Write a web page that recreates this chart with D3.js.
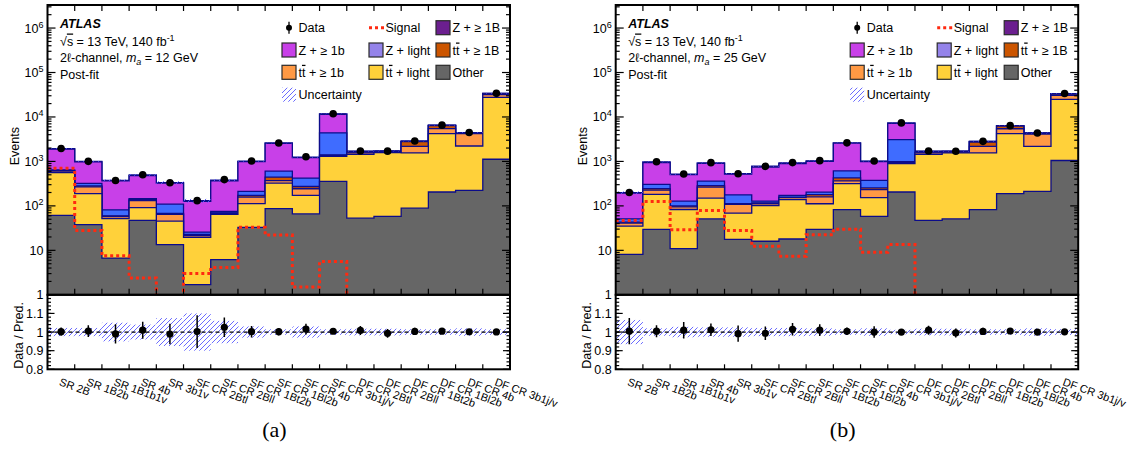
<!DOCTYPE html>
<html lang="en">
<head>
<meta charset="UTF-8">
<title>Post-fit yields, 2l channel</title>
<script src="https://d3js.org/d3.v7.min.js"></script>
<style>
    body { margin: 0; background: #fff; }
    svg text { font-family: "Liberation Sans", Arial, Helvetica, sans-serif; fill: #000; }
    .tick-label { font-size: 12.5px; }
    .bin-label { font-size: 11px; }
    .leg-text { font-size: 12.5px; }
    .info { font-size: 12.5px; }
    .axis-title { font-size: 12.5px; }
    .caption { font-family: "Liberation Serif", "Times New Roman", serif; font-size: 22px; }
    .over { text-decoration: overline; }
</style>
</head>
<body>
<svg id="chart" width="1131" height="450"></svg>
<script>
    const categories = ["SR 2B", "SR 1B2b", "SR 1B1b1v", "SR 4b", "SR 3b1v",
        "SF CR 2Btl", "SF CR 2Bll", "SF CR 1Bt2b", "SF CR 1Bl2b", "SF CR 4b", "SF CR 3b1j/v",
        "DF CR 2Btl", "DF CR 2Bll", "DF CR 1Bt2b", "DF CR 1Bl2b", "DF CR 4b", "DF CR 3b1j/v"];

    // (a) m_a = 12 GeV
    const otherA = [61, 38, 6.7, 47, 13.5, 1.7, 6.2, 33, 87, 66, 355, 53, 58, 89, 205, 223, 1120];
    const ttLightA = [500, 150, 45, 44, 32, 18, 58, 79, 238, 107, 945, 1387, 1522, 1461, 4035, 2000, 26600];
    const tt1bA = [45, 80, 6, 41, 19, 2, 4, 46, 45, 70, 60, 120, 60, 630, 1240, 2000, 4000];
    const tt1BA = [15, 12, 2, 8, 3, 1, 1, 15, 75, 30, 40, 40, 20, 600, 900, 150, 1500];
    const zLightA = [25, 40, 22, 6, 42, 3, 6, 40, 160, 150, 3000, 30, 20, 40, 60, 30, 400];
    const z1bA = [1240, 660, 285, 335, 215, 100, 290, 780, 1950, 800, 7100, 60, 30, 40, 60, 40, 300];
    const z1BA = [60, 20, 8, 15, 10, 5, 15, 25, 40, 30, 250, 10, 5, 10, 20, 10, 50];
    const dataA = [1950, 1005, 371, 501, 331, 131, 390, 1020, 2600, 1273, 11800, 1715, 1703, 2880, 6550, 4460, 34000];
    const signalA = [700, 28, 7.6, 2.4, 0, 3, 4.1, 33, 22, 1.5, 5.6, 0, 0, 0, 0, 0, 0];
    const dataErrA = [0.022, 0.032, 0.052, 0.045, 0.055, 0.088, 0.051, 0.031, 0.02, 0.028, 0.009, 0.024, 0.024, 0.019, 0.012, 0.015, 0.005];
    const uncA = [0.022, 0.022, 0.05, 0.04, 0.075, 0.1, 0.06, 0.03, 0.015, 0.03, 0.015, 0.018, 0.018, 0.015, 0.015, 0.02, 0.015];

    // (b) m_a = 25 GeV
    const otherB = [8.1, 29.6, 10.9, 51, 17.6, 16, 18, 29.6, 82, 58, 205, 47, 51, 82, 188, 213, 1050];
    const ttLightB = [27, 151, 72, 99, 51, 86, 120, 82, 234, 95, 685, 1393, 1499, 1468, 4042, 1977, 23950];
    const tt1bB = [6, 45, 12, 115, 39, 10, 15, 48, 50, 80, 60, 120, 70, 620, 1200, 1950, 5500];
    const tt1BB = [2, 20, 5, 20, 5, 5, 5, 20, 60, 20, 40, 40, 25, 560, 800, 150, 2100];
    const zLightB = [8, 60, 28, 77, 65, 11, 15, 25, 184, 122, 2110, 30, 20, 40, 50, 30, 500];
    const z1bB = [142, 640, 375, 540, 340, 620, 720, 800, 1960, 620, 4100, 60, 30, 40, 50, 30, 400];
    const z1BB = [6, 30, 12, 25, 15, 32, 35, 25, 40, 25, 150, 10, 5, 10, 15, 10, 60];
    const dataB = [200, 980, 520, 938, 528, 775, 942, 1040, 2620, 1020, 7350, 1717, 1692, 2830, 6380, 4360, 33600];
    const signalB = [47, 126, 29, 79, 28, 12.3, 7.4, 22.5, 30, 9.1, 13.5, 0, 0, 0, 0, 0, 0];
    const dataErrB = [0.07, 0.032, 0.044, 0.033, 0.044, 0.036, 0.033, 0.031, 0.02, 0.031, 0.012, 0.024, 0.024, 0.019, 0.013, 0.015, 0.005];
    const uncB = [0.065, 0.02, 0.028, 0.025, 0.025, 0.022, 0.022, 0.02, 0.015, 0.02, 0.012, 0.018, 0.018, 0.015, 0.015, 0.02, 0.015];

    const mainTicks = [1, 10, 100, 1e3, 1e4, 1e5, 1e6];
    const ratioTicks = [0.8, 0.9, 1, 1.1];

    // stack order, bottom to top
    const processes = [
        { key: "other", color: "#666666" },
        { key: "ttLight", color: "#ffd13a" },
        { key: "tt1b", color: "#ff9944" },
        { key: "tt1B", color: "#cc5500" },
        { key: "zLight", color: "#3f6cff" },
        { key: "z1b", color: "#c840e8" },
        { key: "z1B", color: "#6b1f8f" }
    ];
    const navy = "#0c0c8a";

    const panels = [
        { left: 47.5, tag: "a", mass: "12", other: otherA, ttLight: ttLightA, tt1b: tt1bA, tt1B: tt1BA,
          zLight: zLightA, z1b: z1bA, z1B: z1BA, data: dataA, signal: signalA, err: dataErrA, unc: uncA },
        { left: 615.7, tag: "b", mass: "25", other: otherB, ttLight: ttLightB, tt1b: tt1bB, tt1B: tt1BB,
          zLight: zLightB, z1b: z1bB, z1B: z1BB, data: dataB, signal: signalB, err: dataErrB, unc: uncB }
    ];

    const plotW = 462.5, mainTop = 5, mainBottom = 294.8, ratioBottom = 369.3;

    const svg = d3.select("#chart");
    const defs = svg.append("defs");

    // hatching for the uncertainty band
    defs.append("pattern")
        .attr("id", "hatch")
        .attr("patternUnits", "userSpaceOnUse")
        .attr("width", 5).attr("height", 5)
        .append("path")
        .attr("d", "M0,5 L5,0 M-1,1 L1,-1 M4,6 L6,4")
        .attr("stroke", "#5a5aff")
        .attr("stroke-width", 0.9);

    // helper: write text made of segments (overline / italic / sub / sup)
    function richText(sel, parts) {
        parts.forEach(p => {
            const t = sel.append("tspan").text(p.t);
            if (p.over) t.attr("class", "over");
            if (p.it) t.style("font-style", "italic");
            if (p.sub) t.attr("dy", 3).style("font-size", "9px");
            if (p.sup) t.attr("dy", -5).style("font-size", "9px");
            if (p.back) t.attr("dy", p.back);
        });
    }

    function drawPanel(p, idx) {
        const g = svg.append("g");
        const x = d3.scaleBand().domain(categories).range([p.left, p.left + plotW]).padding(0);
        const y = d3.scaleLog().domain([1, 3.3e6]).range([mainBottom, mainTop]);
        const r = d3.scaleLinear().domain([0.8, 1.2]).range([ratioBottom, mainBottom]);
        const bw = x.bandwidth();
        const right = p.left + plotW;

        defs.append("clipPath").attr("id", "clipMain" + idx)
            .append("rect").attr("x", p.left).attr("y", mainTop)
            .attr("width", plotW).attr("height", mainBottom - mainTop);
        defs.append("clipPath").attr("id", "clipRatio" + idx)
            .append("rect").attr("x", p.left).attr("y", mainBottom)
            .attr("width", plotW).attr("height", ratioBottom - mainBottom);

        // table for d3.stack
        const rows = categories.map((c, i) => {
            const row = { cat: c };
            processes.forEach(pr => { row[pr.key] = p[pr.key][i]; });
            return row;
        });
        const series = d3.stack().keys(processes.map(pr => pr.key))(rows);
        const totals = series[series.length - 1].map(d => d[1]);

        const stepPts = vals => {
            const pts = vals.map((v, i) => ({ x: x(categories[i]), v: v }));
            pts.push({ x: right, v: vals[vals.length - 1] });
            return pts;
        };
        const yc = v => y(Math.max(v, 0.3));

        const area = d3.area().x(d => d.x).y0(mainBottom + 5).y1(d => yc(d.v)).curve(d3.curveStepAfter);
        const line = d3.line().x(d => d.x).y(d => yc(d.v)).curve(d3.curveStepAfter);

        const main = g.append("g").attr("clip-path", "url(#clipMain" + idx + ")");

        // cumulative histograms, drawn from the top of the stack downwards
        series.slice().reverse().forEach(s => {
            const color = processes.find(pr => pr.key === s.key).color;
            const pts = stepPts(s.map(d => d[1]));
            main.append("path").attr("d", area(pts)).attr("fill", color);
            main.append("path").attr("d", line(pts)).attr("fill", "none")
                .attr("stroke", navy).attr("stroke-width", 1.3);
        });

        // uncertainty on the total
        main.selectAll(".unc").data(categories).enter().append("rect")
            .attr("x", d => x(d))
            .attr("width", bw)
            .attr("y", (d, i) => y(totals[i] * (1 + p.unc[i])))
            .attr("height", (d, i) => y(totals[i] * (1 - p.unc[i])) - y(totals[i] * (1 + p.unc[i])))
            .attr("fill", "url(#hatch)");

        // signal
        main.append("path").attr("d", line(stepPts(p.signal)))
            .attr("fill", "none").attr("stroke", "#ff2a10")
            .attr("stroke-width", 3).attr("stroke-dasharray", "3,3");

        // data
        main.selectAll(".err").data(categories).enter().append("line")
            .attr("x1", d => x(d) + bw / 2).attr("x2", d => x(d) + bw / 2)
            .attr("y1", (d, i) => y(p.data[i] * (1 - p.err[i])))
            .attr("y2", (d, i) => y(p.data[i] * (1 + p.err[i])))
            .attr("stroke", "#000").attr("stroke-width", 1.5);
        main.selectAll(".pt").data(categories).enter().append("circle")
            .attr("cx", d => x(d) + bw / 2)
            .attr("cy", (d, i) => y(p.data[i]))
            .attr("r", 3.8).attr("fill", "#000");

        // ratio panel
        const rat = g.append("g").attr("clip-path", "url(#clipRatio" + idx + ")");
        rat.selectAll(".runc").data(categories).enter().append("rect")
            .attr("x", d => x(d)).attr("width", bw)
            .attr("y", (d, i) => r(1 + p.unc[i]))
            .attr("height", (d, i) => r(1 - p.unc[i]) - r(1 + p.unc[i]))
            .attr("fill", "url(#hatch)");
        rat.append("line")
            .attr("x1", p.left).attr("x2", right).attr("y1", r(1)).attr("y2", r(1))
            .attr("stroke", "#000").attr("stroke-width", 1.2).attr("stroke-dasharray", "4,3");
        const ratio = categories.map((c, i) => p.data[i] / totals[i]);
        rat.selectAll(".rerr").data(categories).enter().append("line")
            .attr("x1", d => x(d) + bw / 2).attr("x2", d => x(d) + bw / 2)
            .attr("y1", (d, i) => r(ratio[i] * (1 - p.err[i])))
            .attr("y2", (d, i) => r(ratio[i] * (1 + p.err[i])))
            .attr("stroke", "#000").attr("stroke-width", 1.5);
        rat.selectAll(".rpt").data(categories).enter().append("circle")
            .attr("cx", d => x(d) + bw / 2)
            .attr("cy", (d, i) => r(ratio[i]))
            .attr("r", 3.6).attr("fill", "#000");

        // frames
        [[mainTop, mainBottom], [mainBottom, ratioBottom]].forEach(fr => {
            g.append("rect").attr("x", p.left).attr("y", fr[0])
                .attr("width", plotW).attr("height", fr[1] - fr[0])
                .attr("fill", "none").attr("stroke", "#000").attr("stroke-width", 2);
        });

        const ticks = g.append("g").attr("stroke", "#000").attr("stroke-width", 1.2);

        // x ticks at bin edges
        const edges = categories.slice(1).map(c => x(c));
        edges.forEach(e => {
            ticks.append("line").attr("x1", e).attr("x2", e).attr("y1", mainBottom).attr("y2", mainBottom - 6);
            ticks.append("line").attr("x1", e).attr("x2", e).attr("y1", mainTop).attr("y2", mainTop + 6);
            ticks.append("line").attr("x1", e).attr("x2", e).attr("y1", ratioBottom).attr("y2", ratioBottom - 5);
        });

        // log y ticks
        const minor = [];
        mainTicks.forEach(t => { for (let k = 2; k <= 9; k++) if (t * k < 3.3e6) minor.push(t * k); });
        mainTicks.forEach(t => {
            ticks.append("line").attr("x1", p.left).attr("x2", p.left + 8).attr("y1", y(t)).attr("y2", y(t));
            ticks.append("line").attr("x1", right).attr("x2", right - 8).attr("y1", y(t)).attr("y2", y(t));
        });
        minor.forEach(t => {
            ticks.append("line").attr("x1", p.left).attr("x2", p.left + 4).attr("y1", y(t)).attr("y2", y(t));
            ticks.append("line").attr("x1", right).attr("x2", right - 4).attr("y1", y(t)).attr("y2", y(t));
        });
        mainTicks.forEach(t => {
            const e = Math.round(Math.log10(t));
            const lbl = g.append("text").attr("class", "tick-label")
                .attr("x", p.left - 4).attr("y", y(t) + 4.5).attr("text-anchor", "end");
            if (e === 0) lbl.text("1");
            else if (e === 1) lbl.text("10");
            else richText(lbl, [{ t: "10" }, { t: String(e), sup: true }]);
        });

        // ratio y ticks
        d3.range(0.82, 1.2, 0.02).forEach(t => {
            ticks.append("line").attr("x1", p.left).attr("x2", p.left + 3.5).attr("y1", r(t)).attr("y2", r(t));
            ticks.append("line").attr("x1", right).attr("x2", right - 3.5).attr("y1", r(t)).attr("y2", r(t));
        });
        ratioTicks.forEach(t => {
            ticks.append("line").attr("x1", p.left).attr("x2", p.left + 7).attr("y1", r(t)).attr("y2", r(t));
            ticks.append("line").attr("x1", right).attr("x2", right - 7).attr("y1", r(t)).attr("y2", r(t));
            g.append("text").attr("class", "tick-label")
                .attr("x", p.left - 4).attr("y", r(t) + 4.5).attr("text-anchor", "end")
                .text(t === 1 ? "1" : String(t));
        });

        // bin labels
        g.selectAll(".bin-label").data(categories).enter().append("text")
            .attr("class", "bin-label")
            .attr("transform", d => "translate(" + (x(d) + bw / 2 - 2.5) + ",385) rotate(20)")
            .text(d => d);

        // axis titles
        g.append("text").attr("class", "axis-title")
            .attr("transform", "translate(" + (p.left - 29) + ",127) rotate(-90)")
            .attr("text-anchor", "end").text("Events");
        g.append("text").attr("class", "axis-title")
            .attr("transform", "translate(" + (p.left - 25) + ",302) rotate(-90)")
            .attr("text-anchor", "end").text("Data / Pred.");

        // ATLAS label block
        const ix = p.left + 12.5;
        g.append("text").attr("x", ix).attr("y", 28)
            .style("font-size", "12.5px").style("font-weight", "bold").style("font-style", "italic")
            .text("ATLAS");
        richText(g.append("text").attr("class", "info").attr("x", ix).attr("y", 45.5),
            [{ t: "\u221A" }, { t: "s", over: true }, { t: " = 13 TeV, 140 fb" }, { t: "-1", sup: true }]);
        richText(g.append("text").attr("class", "info").attr("x", ix).attr("y", 62),
            [{ t: "2\u2113-channel, " }, { t: "m", it: true }, { t: "a", sub: true, it: true },
             { t: " = " + p.mass + " GeV", back: -3 }]);
        g.append("text").attr("class", "info").attr("x", ix).attr("y", 78.5).text("Post-fit");

        // legend
        const cols = [p.left + 234.5, p.left + 321.5, p.left + 388.5];
        const rowsY = [27.7, 50, 72.3, 94.7];
        const legend = [
            { c: 0, r: 0, type: "data", label: [{ t: "Data" }] },
            { c: 1, r: 0, type: "signal", label: [{ t: "Signal" }] },
            { c: 2, r: 0, type: "box", color: "#6b1f8f", label: [{ t: "Z + \u2265 1B" }] },
            { c: 0, r: 1, type: "box", color: "#c840e8", label: [{ t: "Z + \u2265 1b" }] },
            { c: 1, r: 1, type: "box", color: "#9483ea", label: [{ t: "Z + light" }] },
            { c: 2, r: 1, type: "box", color: "#cc5500", label: [{ t: "t" }, { t: "t", over: true }, { t: " + \u2265 1B" }] },
            { c: 0, r: 2, type: "box", color: "#ff9944", label: [{ t: "t" }, { t: "t", over: true }, { t: " + \u2265 1b" }] },
            { c: 1, r: 2, type: "box", color: "#ffd13a", label: [{ t: "t" }, { t: "t", over: true }, { t: " + light" }] },
            { c: 2, r: 2, type: "box", color: "#666666", label: [{ t: "Other" }] },
            { c: 0, r: 3, type: "unc", label: [{ t: "Uncertainty" }] }
        ];
        legend.forEach(it => {
            const lx = cols[it.c], ly = rowsY[it.r];
            if (it.type === "box") {
                g.append("rect").attr("x", lx).attr("y", ly - 7).attr("width", 14).attr("height", 14)
                    .attr("fill", it.color).attr("stroke", "#2a2a2a").attr("stroke-width", 1.2);
            } else if (it.type === "unc") {
                g.append("rect").attr("x", lx).attr("y", ly - 7).attr("width", 14).attr("height", 14)
                    .attr("fill", "url(#hatch)");
            } else if (it.type === "data") {
                g.append("line").attr("x1", lx + 7).attr("x2", lx + 7).attr("y1", ly - 6).attr("y2", ly + 6)
                    .attr("stroke", "#000").attr("stroke-width", 1.3);
                g.append("circle").attr("cx", lx + 7).attr("cy", ly).attr("r", 3).attr("fill", "#000");
            } else if (it.type === "signal") {
                g.append("line").attr("x1", lx).attr("x2", lx + 15).attr("y1", ly).attr("y2", ly)
                    .attr("stroke", "#ff2a10").attr("stroke-width", 3).attr("stroke-dasharray", "3,3");
            }
            richText(g.append("text").attr("class", "leg-text").attr("x", lx + 16.5).attr("y", ly + 4.5), it.label);
        });

        // caption
        g.append("text").attr("class", "caption")
            .attr("x", p.left + 227).attr("y", 437).attr("text-anchor", "middle")
            .text("(" + p.tag + ")");
    }

    panels.forEach(drawPanel);
</script>
</body>
</html>
